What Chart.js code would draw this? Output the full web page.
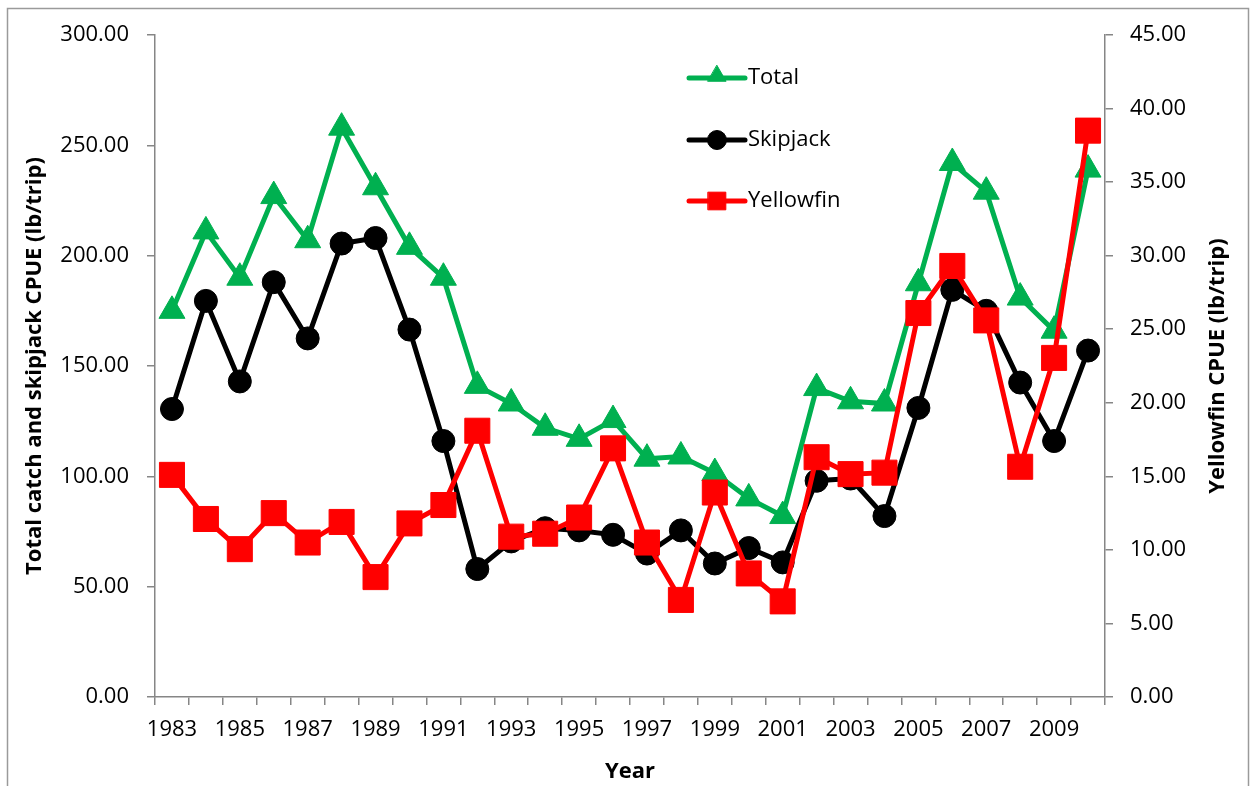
<!DOCTYPE html>
<html>
<head>
<meta charset="utf-8">
<script src="https://cdn.jsdelivr.net/npm/chart.js@4"></script>
<style>
  html, body { margin: 0; padding: 0; background: #fff; }
  canvas { display: block; }
</style>
</head>
<body>
<canvas id="cpue-chart" width="1254" height="786"></canvas>
<script>
// ─── Data ───────────────────────────────────────────────────

const years = [
  1983, 1984, 1985, 1986, 1987, 1988, 1989, 1990, 1991, 1992,
  1993, 1994, 1995, 1996, 1997, 1998, 1999, 2000, 2001, 2002,
  2003, 2004, 2005, 2006, 2007, 2008, 2009, 2010,
];

const totalCpue = [
  175, 211, 190, 227, 207, 258, 231, 204, 190, 141,
  133, 122, 117, 125.5, 108, 109, 101.5, 90, 82, 140,
  134, 133, 187.5, 242, 229, 181, 166, 239,
];

const skipjackCpue = [
  130.5, 179.5, 143, 188, 162.5, 205.5, 208, 166.5, 116, 58,
  70.5, 76.5, 75.5, 73.5, 65, 75.5, 60.5, 67.5, 61, 98,
  99, 82, 131, 184.5, 175, 142.5, 116, 157,
];

const yellowfinCpue = [
  15.1, 12.1, 10.05, 12.5, 10.5, 11.9, 8.15, 11.8, 13.05, 18.1,
  10.9, 11.1, 12.2, 16.9, 10.5, 6.6, 13.9, 8.4, 6.5, 16.3,
  15.15, 15.25, 26.1, 29.3, 25.6, 15.65, 23.05, 38.5,
];

const GREEN = '#00B050';
const BLACK = '#000000';
const RED = '#FF0000';
const AXIS_GREY = '#868686';
const FONT = '"Open Sans", "Noto Sans", sans-serif';

// ─── Plugins ────────────────────────────────────────────────

// outer frame of the chart, like the Excel chart area border
const framePlugin = {
  id: 'frame',
  beforeDraw(chart) {
    const ctx = chart.ctx;
    ctx.save();
    ctx.fillStyle = '#fff';
    ctx.fillRect(0, 0, chart.width, chart.height);
    ctx.strokeStyle = '#9a9a9a';
    ctx.lineWidth = 1.5;
    ctx.strokeRect(7.5, 8.5, chart.width - 13, chart.height + 20);
    ctx.restore();
  },
};

// legend inside the plot, line sample + marker + label
const insideLegend = {
  id: 'insideLegend',
  afterDatasetsDraw(chart) {
    const ctx = chart.ctx;
    const x0 = 689, x1 = 745;
    const rows = [78, 140, 201];
    const marks = [
      { pointStyle: 'triangle', radius: 10.5 },
      { pointStyle: 'circle', radius: 9.5 },
      { pointStyle: 'rect', radius: 12.5 },
    ];
    ctx.save();
    chart.data.datasets.forEach((ds, i) => {
      const y = rows[i];
      ctx.strokeStyle = ds.borderColor;
      ctx.lineWidth = 5;
      ctx.lineCap = 'round';
      ctx.beginPath();
      ctx.moveTo(x0, y);
      ctx.lineTo(x1, y);
      ctx.stroke();
      ctx.fillStyle = ds.borderColor;
      ctx.strokeStyle = ds.borderColor;
      ctx.lineWidth = 1;
      Chart.helpers.drawPoint(ctx, { ...marks[i], rotation: 0, borderWidth: 1 },
        (x0 + x1) / 2, i === 0 ? y - 2 : y);
      ctx.fillStyle = '#000';
      ctx.font = '22px ' + FONT;
      ctx.textBaseline = 'middle';
      ctx.textAlign = 'left';
      ctx.fillText(ds.label, x1 + 3, y);
    });
    ctx.restore();
  },
};

// secondary axis title, rotated like the primary one
const rightTitle = {
  id: 'rightTitle',
  afterDraw(chart) {
    const ctx = chart.ctx;
    const area = chart.chartArea;
    ctx.save();
    ctx.translate(1218, (area.top + area.bottom) / 2);
    ctx.rotate(-Math.PI / 2);
    ctx.font = 'bold 22px ' + FONT;
    ctx.fillStyle = '#000';
    ctx.textAlign = 'center';
    ctx.textBaseline = 'middle';
    ctx.fillText('Yellowfin CPUE (lb/trip)', 0, 0);
    ctx.restore();
  },
};

// ─── Chart ──────────────────────────────────────────────────

function lineSet(label, data, color, style, radius, axis, order) {
  return {
    label,
    data,
    yAxisID: axis,
    order,
    borderColor: color,
    backgroundColor: color,
    borderWidth: 5,
    tension: 0,
    pointStyle: style,
    pointRadius: radius,
    pointBackgroundColor: color,
    pointBorderColor: color,
    pointBorderWidth: 1,
  };
}

const tickFont = { family: FONT, size: 22 };

new Chart(document.getElementById('cpue-chart'), {
  type: 'line',
  data: {
    labels: years.map(String),
    datasets: [
      lineSet('Total', totalCpue, GREEN, 'triangle', 15, 'y', 2),
      lineSet('Skipjack', skipjackCpue, BLACK, 'circle', 11.5, 'y', 1),
      lineSet('Yellowfin', yellowfinCpue, RED, 'rect', 17.7, 'y2', 0),
    ],
  },
  options: {
    responsive: false,
    animation: false,
    devicePixelRatio: 1,
    layout: { padding: { top: 35, left: 0, right: 0, bottom: 0 } },
    plugins: {
      legend: { display: false },
      tooltip: { enabled: false },
    },
    scales: {
      x: {
        type: 'category',
        offset: true,
        grid: {
          offset: true,
          drawOnChartArea: false,
          drawTicks: true,
          tickLength: 8,
          color: AXIS_GREY,
          lineWidth: 1.5,
        },
        border: { display: true, color: AXIS_GREY, width: 1.5 },
        ticks: {
          autoSkip: false,
          maxRotation: 0,
          color: '#000',
          font: tickFont,
          padding: 12,
          callback: (v, i) => (i % 2 === 0 ? years[i] : ''),
        },
        title: {
          display: true,
          text: 'Year',
          color: '#000',
          font: { family: FONT, size: 22, weight: 'bold' },
          padding: { top: 0, bottom: 1 },
        },
        afterFit: s => { s.height = 786 - 697; },
      },
      y: {
        position: 'left',
        min: 0,
        max: 300,
        grid: {
          drawOnChartArea: false,
          drawTicks: true,
          tickLength: 8,
          color: AXIS_GREY,
          lineWidth: 1.5,
        },
        border: { display: true, color: AXIS_GREY, width: 1.5 },
        ticks: {
          stepSize: 50,
          color: '#000',
          font: tickFont,
          padding: 18,
          callback: v => v.toFixed(2),
        },
        title: {
          display: true,
          text: 'Total catch and skipjack CPUE (lb/trip)',
          color: '#000',
          font: { family: FONT, size: 22, weight: 'bold' },
          padding: { top: 22, bottom: 0 },
        },
        afterFit: s => { s.width = 155; },
      },
      y2: {
        position: 'right',
        min: 0,
        max: 45,
        grid: {
          drawOnChartArea: false,
          drawTicks: true,
          tickLength: 8,
          color: AXIS_GREY,
          lineWidth: 1.5,
        },
        border: { display: true, color: AXIS_GREY, width: 1.5 },
        ticks: {
          stepSize: 5,
          color: '#000',
          font: tickFont,
          padding: 17,
          callback: v => v.toFixed(2),
        },
        afterFit: s => { s.width = 1254 - 1105; },
      },
    },
  },
  plugins: [framePlugin, insideLegend, rightTitle],
});
</script>
</body>
</html>
